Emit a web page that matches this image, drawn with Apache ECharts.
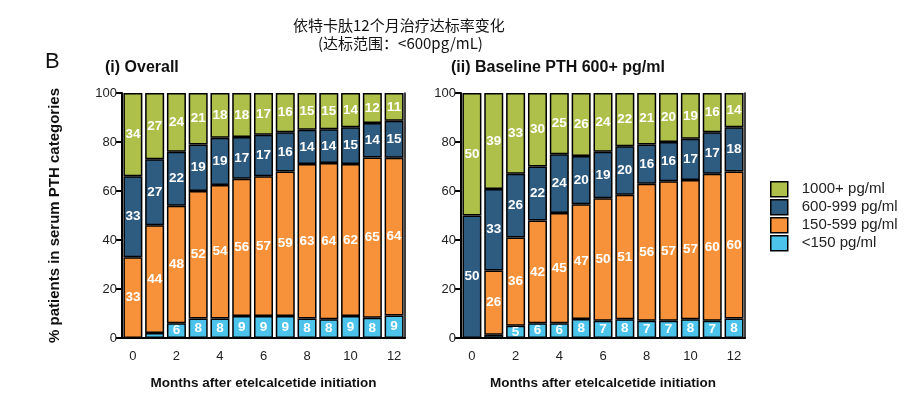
<!DOCTYPE html>
<html>
<head>
<meta charset="utf-8">
<script src="https://cdn.jsdelivr.net/npm/echarts@6/dist/echarts.min.js"></script>
<style>
html,body{margin:0;padding:0;background:#fff;}
#c{width:921px;height:403px;}
</style>
</head>
<body>
<div id="c"></div>
<script>
const months = ['0','1','2','3','4','5','6','7','8','9','10','11','12'];
const yTicks = [0, 20, 40, 60, 80, 100];
const seriesNames = ['<150 pg/ml', '150-599 pg/ml', '600-999 pg/ml', '1000+ pg/ml'];

// (i) Overall  (segment heights; labels are the rounded values)
const overallLt150   = [0, 2, 6, 8, 8, 9, 9, 9, 8, 7.7, 9, 8.3, 9.2];
const overall150_599 = [33, 44, 48, 52, 54.4, 56, 57, 59, 63, 63.7, 62, 65.4, 64.4];
const overall600_999 = [33, 27, 22, 19, 19.3, 17, 17, 16, 14, 13.8, 15, 14.1, 15.1];
const overall1000    = [34, 27, 24, 21, 18.3, 18, 17, 16, 15, 14.8, 14, 12.2, 11.3];

// (ii) Baseline PTH 600+ pg/ml
const baseLt150   = [0, 1.3, 5, 6, 6, 7.8, 7, 7.7, 7, 7, 7.7, 7, 8];
const base150_599 = [0, 26.3, 36, 42, 45, 46.8, 50, 50.8, 56, 57, 56.8, 60, 60];
const base600_999 = [50, 33.2, 26, 22, 24, 19.7, 19, 19.8, 16, 16, 16.8, 17, 18];
const base1000    = [50, 39.2, 33, 30, 25, 25.7, 24, 21.7, 21, 20, 18.7, 16, 14];

const colors = ['#4cc3ea', '#f7923a', '#2e5b80', '#aebf4a'];
const FONT = "'Liberation Sans', Arial, sans-serif";

function makeSeries(dataArrs, idx, stackName) {
  return dataArrs.map((d, i) => ({
    name: seriesNames[i],
    type: 'bar',
    xAxisIndex: idx,
    yAxisIndex: idx,
    stack: stackName,
    data: d,
    barWidth: 19,
    itemStyle: { color: colors[i], borderColor: '#000', borderWidth: 1.5 },
    label: {
      show: true,
      position: 'inside',
      color: '#fff',
      fontWeight: 'bold',
      fontSize: 13.5,
      fontFamily: FONT,
      formatter: p => (p.value >= 4 ? Math.round(p.value) : '')
    },
    emphasis: { disabled: true },
    animation: false
  }));
}

const gridTop = 93, gridH = 245;
const grids = [
  { left: 122, top: gridTop, width: 283, height: gridH },
  { left: 461, top: gridTop, width: 284, height: gridH }
];

function xAx(i) {
  return {
    type: 'category', gridIndex: i, data: months,
    axisLine: { lineStyle: { color: '#000', width: 2 } },
    axisTick: { interval: 1, alignWithLabel: true, length: 6, lineStyle: { color: '#000', width: 2 } },
    axisLabel: { interval: 1, color: '#222', fontSize: 13, fontFamily: FONT, margin: 12 },
    name: 'Months after etelcalcetide initiation',
    nameLocation: 'middle', nameGap: 38,
    nameTextStyle: { fontWeight: 'bold', fontSize: 13.5, color: '#111', fontFamily: FONT }
  };
}
function yAx(i, withName) {
  return {
    type: 'value', gridIndex: i, min: yTicks[0], max: yTicks[yTicks.length - 1], interval: 20,
    axisLine: { show: true, lineStyle: { color: '#000', width: 2 } },
    axisTick: { show: true, length: 6, lineStyle: { color: '#000', width: 2 } },
    axisLabel: { color: '#222', fontSize: 13, fontFamily: FONT, margin: 5 },
    splitLine: { show: false },
    name: withName ? '% patients in serum PTH categories' : '',
    nameLocation: 'middle', nameGap: 60,
    nameTextStyle: { fontWeight: 'bold', fontSize: 15, color: '#111', fontFamily: FONT }
  };
}
function frameAx(i) {
  return {
    type: 'value', gridIndex: i, min: 0, max: 100, position: 'right',
    axisLine: { show: true, lineStyle: { color: '#000', width: 1.5 } },
    axisTick: { show: false }, axisLabel: { show: false }, splitLine: { show: false }
  };
}

const chart = echarts.init(document.getElementById('c'), null, { renderer: 'canvas' });
chart.setOption({
  animation: false,
  grid: grids,
  xAxis: [xAx(0), xAx(1)],
  yAxis: [yAx(0, true), yAx(1, false), frameAx(0), frameAx(1)],
  legend: {
    orient: 'vertical', left: 770, top: 181, padding: 0,
    data: seriesNames.slice().reverse(),
    icon: 'rect', itemWidth: 17, itemHeight: 15, itemGap: 1.5,
    itemStyle: { borderColor: '#000', borderWidth: 1.5 },
    textStyle: { fontSize: 15, lineHeight: 15, color: '#222', fontFamily: FONT, padding: [0, 0, 0, 9] },
    selectedMode: false
  },
  graphic: [
    { type: 'text', left: 398 - 105, top: 18, style: { text: '依特卡肽12个月治疗达标率变化', font: "15px 'Noto Sans CJK SC'", fill: '#111' } },
    { type: 'text', left: 398 - 80, top: 36, style: { text: '(达标范围：<600pg/mL)', font: "15px 'Noto Sans CJK SC'", fill: '#111' } },
    { type: 'text', left: 45, top: 51, style: { text: 'B', font: "22px 'Liberation Sans'", fill: '#111' } },
    { type: 'text', left: 105, top: 60, style: { text: '(i) Overall', font: "bold 16px 'Liberation Sans'", fill: '#111' } },
    { type: 'text', left: 451, top: 60, style: { text: '(ii) Baseline PTH 600+ pg/ml', font: "bold 16px 'Liberation Sans'", fill: '#111' } }
  ],
  series: [
    ...makeSeries([overallLt150, overall150_599, overall600_999, overall1000], 0, 'overall'),
    ...makeSeries([baseLt150, base150_599, base600_999, base1000], 1, 'base')
  ]
});
</script>
</body>
</html>
